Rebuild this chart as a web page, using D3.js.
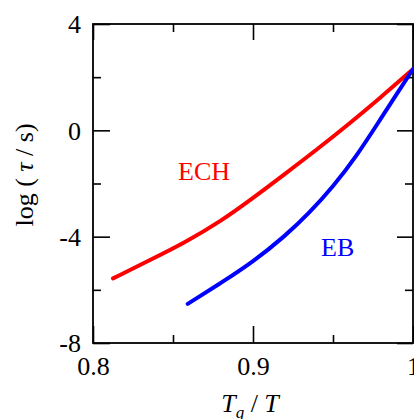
<!DOCTYPE html>
<html>
<head>
<meta charset="utf-8">
<script src="https://cdn.jsdelivr.net/npm/d3@7"></script>
<style>
  html, body { margin: 0; padding: 0; background: #fff; }
  svg { display: block; }
  text { font-family: "Liberation Serif", "Times New Roman", serif; }
</style>
</head>
<body>
<svg id="chart" width="414" height="419"></svg>
<script>
// ---- data ----
const echX = [0.8125, 0.835, 0.8575, 0.88, 0.9, 0.92, 0.94, 0.96, 0.98, 1.0];
const echY = [-5.57, -4.90, -4.22, -3.42, -2.55, -1.64, -0.72, 0.24, 1.25, 2.30];
const ebX = [0.8592, 0.88, 0.9, 0.92, 0.935, 0.95, 0.965, 0.98, 0.99, 1.0];
const ebY = [-6.53, -5.74, -4.95, -3.98, -3.12, -2.12, -0.95, 0.45, 1.38, 2.30];
const xMajor = [0.8, 0.9, 1.0];
const xMinor = [0.85, 0.95];
const xTickLabels = ["0.8", "0.9", "1"];
const yMajor = [-8, -4, 0, 4];
const yMinor = [-6, -2, 2];
const yTickLabels = ["-8", "-4", "0", "4"];
const seriesNames = ["ECH", "EB"];
const seriesColors = ["#ff0000", "#0000ff"];

// ---- layout ----
const L = 93, R = 413, T = 24, B = 343;
const svg = d3.select("#chart");
const x = d3.scaleLinear().domain([0.8, 1.0]).range([L, R]);
const y = d3.scaleLinear().domain([-8, 4]).range([B, T]);
const fs = 26;

function styleAxis(g) {
  g.select(".domain").remove();
  g.selectAll(".tick line").attr("stroke", "#000").attr("stroke-width", 1.6);
  g.selectAll(".tick text").attr("font-size", fs).attr("fill", "#000")
    .attr("font-family", '"Liberation Serif", "Times New Roman", serif');
}

// left axis
svg.append("g").attr("transform", `translate(${L},0)`)
  .call(d3.axisLeft(y).tickValues(yMajor).tickSize(-17).tickPadding(12)
    .tickFormat((d, i) => yTickLabels[i]))
  .call(styleAxis)
  .call(g => g.selectAll(".tick text").attr("dy", "0.34em"));
svg.append("g").attr("transform", `translate(${L},0)`)
  .call(d3.axisLeft(y).tickValues(yMinor).tickSize(-8).tickFormat(""))
  .call(styleAxis);
// right axis
svg.append("g").attr("transform", `translate(${R},0)`)
  .call(d3.axisRight(y).tickValues(yMajor).tickSize(-16).tickFormat(""))
  .call(styleAxis);
svg.append("g").attr("transform", `translate(${R},0)`)
  .call(d3.axisRight(y).tickValues(yMinor).tickSize(-8).tickFormat(""))
  .call(styleAxis);
// bottom axis
svg.append("g").attr("transform", `translate(0,${B})`)
  .call(d3.axisBottom(x).tickValues(xMajor).tickSize(-17).tickPadding(14)
    .tickFormat((d, i) => xTickLabels[i]))
  .call(styleAxis);
svg.append("g").attr("transform", `translate(0,${B})`)
  .call(d3.axisBottom(x).tickValues(xMinor).tickSize(-8).tickFormat(""))
  .call(styleAxis);
// top axis
svg.append("g").attr("transform", `translate(0,${T})`)
  .call(d3.axisTop(x).tickValues(xMajor).tickSize(-16).tickFormat(""))
  .call(styleAxis);
svg.append("g").attr("transform", `translate(0,${T})`)
  .call(d3.axisTop(x).tickValues(xMinor).tickSize(-8).tickFormat(""))
  .call(styleAxis);

// frame
svg.append("rect").attr("x", L).attr("y", T).attr("width", R - L).attr("height", B - T)
  .attr("fill", "none").attr("stroke", "#000").attr("stroke-width", 1.8);

// curves
const line = d3.line().x(d => x(d[0])).y(d => y(d[1])).curve(d3.curveBasis);
const series = [d3.zip(echX, echY), d3.zip(ebX, ebY)];
series.forEach((s, i) => {
  svg.append("path").datum(s).attr("d", line)
    .attr("fill", "none").attr("stroke", seriesColors[i])
    .attr("stroke-width", 4).attr("stroke-linecap", "round");
});

// series labels
svg.append("text").attr("x", 178).attr("y", 180).attr("font-size", fs)
  .attr("fill", seriesColors[0]).text(seriesNames[0]);
svg.append("text").attr("x", 321).attr("y", 256).attr("font-size", fs)
  .attr("fill", seriesColors[1]).text(seriesNames[1]);

// y title
const yt = svg.append("text").attr("transform", "translate(33,175) rotate(-90)")
  .attr("text-anchor", "middle").attr("font-size", fs).attr("fill", "#000");
yt.append("tspan").text("log ( ");
yt.append("tspan").attr("font-style", "italic").text("τ");
yt.append("tspan").text(" / s)");

// x title
const xt = svg.append("text").attr("x", 250).attr("y", 412)
  .attr("text-anchor", "middle").attr("font-size", fs).attr("fill", "#000");
xt.append("tspan").attr("font-style", "italic").text("T");
xt.append("tspan").attr("font-style", "italic").attr("font-size", 17).attr("dy", 6).text("g");
xt.append("tspan").attr("dy", -6).text(" / ");
xt.append("tspan").attr("font-style", "italic").text("T");
</script>
</body>
</html>
